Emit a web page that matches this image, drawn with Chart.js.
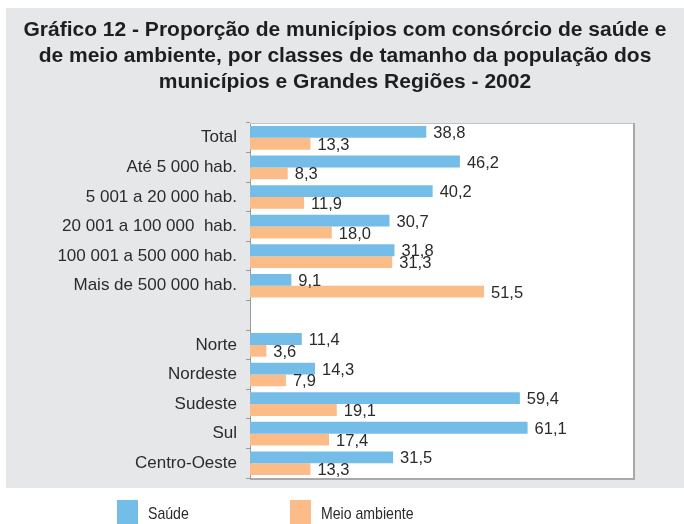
<!DOCTYPE html>
<html lang="pt-BR">
<head>
<meta charset="utf-8">
<title>Gráfico 12</title>
<script src="https://cdn.jsdelivr.net/npm/chart.js@4.4.0/dist/chart.umd.min.js"></script>
<style>
  html, body { margin: 0; padding: 0; background: #fff; }
  #wrap { position: relative; width: 684px; height: 524px; }
</style>
</head>
<body>
<div id="wrap"><canvas id="grafico" width="684" height="524"></canvas></div>
<script>
// Dados do gráfico
const titleLines = [
  'Gráfico 12 - Proporção de municípios com consórcio de saúde e',
  'de meio ambiente, por classes de tamanho da população dos',
  'municípios e Grandes Regiões - 2002'
];
const categories = [
  'Total',
  'Até 5 000 hab.',
  '5 001 a 20 000 hab.',
  '20 001 a 100 000  hab.',
  '100 001 a 500 000 hab.',
  'Mais de 500 000 hab.',
  '',
  'Norte',
  'Nordeste',
  'Sudeste',
  'Sul',
  'Centro-Oeste'
];
const saude = [38.8, 46.2, 40.2, 30.7, 31.8, 9.1, null, 11.4, 14.3, 59.4, 61.1, 31.5];
const meioAmbiente = [13.3, 8.3, 11.9, 18.0, 31.3, 51.5, null, 3.6, 7.9, 19.1, 17.4, 13.3];
const seriesNames = ['Saúde', 'Meio ambiente'];

const FONT = "'Liberation Sans', Arial, sans-serif";
const BLUE = '#74bde8';
const ORANGE = '#fbbc87';
const GREY_BG = '#e6e7e9';
const TEXT = '#2b2b2b';

const fmt = v => v.toFixed(1).replace('.', ',');

/**
 * Fundo cinza, área do gráfico branca, título e legenda
 */
const moldura = {
  id: 'moldura',
  beforeDraw(chart) {
    const { ctx, chartArea: a } = chart;
    ctx.save();
    ctx.fillStyle = '#fff';
    ctx.fillRect(0, 0, chart.width, chart.height);
    ctx.fillStyle = GREY_BG;
    ctx.fillRect(6, 8, chart.width - 6, 480);
    ctx.fillStyle = '#fff';
    ctx.fillRect(a.left, a.top, a.right - a.left, a.bottom - a.top);

    // título
    ctx.fillStyle = '#1e1e1e';
    ctx.font = 'bold 21px ' + FONT;
    ctx.textAlign = 'center';
    ctx.textBaseline = 'middle';
    titleLines.forEach((t, i) => ctx.fillText(t, 345, 30 + i * 26));

    // legenda (texto estreito, como no original)
    ctx.font = '17px ' + FONT;
    ctx.textAlign = 'left';
    const itens = [[BLUE, seriesNames[0], 117], [ORANGE, seriesNames[1], 290]];
    itens.forEach(([cor, nome, x]) => {
      ctx.fillStyle = cor;
      ctx.fillRect(x, 500, 21, 24);
      ctx.fillStyle = TEXT;
      ctx.save();
      ctx.translate(x + 31, 514);
      ctx.scale(0.83, 1);
      ctx.fillText(nome, 0, 0);
      ctx.restore();
    });
    ctx.restore();
  },
  afterDraw(chart) {
    const { ctx, chartArea: a } = chart;
    ctx.save();
    // borda da área do gráfico
    ctx.strokeStyle = '#c4c4c4';
    ctx.lineWidth = 1;
    ctx.beginPath();
    ctx.moveTo(a.left, a.top + 0.5);
    ctx.lineTo(a.right + 0.5, a.top + 0.5);
    ctx.stroke();
    ctx.strokeStyle = '#a9a9a9';
    ctx.lineWidth = 2;
    ctx.beginPath();
    ctx.moveTo(a.right + 1, a.top);
    ctx.lineTo(a.right + 1, a.bottom + 1);
    ctx.lineTo(a.left, a.bottom + 1);
    ctx.stroke();

    // rótulos de valores
    ctx.font = '16.5px ' + FONT;
    ctx.fillStyle = TEXT;
    ctx.textAlign = 'left';
    ctx.textBaseline = 'middle';
    chart.data.datasets.forEach((ds, di) => {
      chart.getDatasetMeta(di).data.forEach((bar, i) => {
        const v = ds.data[i];
        if (v == null) return;
        ctx.fillText(fmt(v), bar.x + 7, bar.y + 1.5);
      });
    });
    ctx.restore();
  }
};

new Chart(document.getElementById('grafico'), {
  type: 'bar',
  data: {
    labels: categories,
    datasets: [
      { label: seriesNames[0], data: saude, backgroundColor: BLUE, borderWidth: 0 },
      { label: seriesNames[1], data: meioAmbiente, backgroundColor: ORANGE, borderWidth: 0 }
    ]
  },
  options: {
    indexAxis: 'y',
    responsive: false,
    devicePixelRatio: 1,
    animation: false,
    datasets: { bar: { categoryPercentage: 0.8, barPercentage: 1 } },
    layout: { padding: { top: 123, right: 51, bottom: 46, left: 0 } },
    plugins: {
      legend: { display: false },
      tooltip: { enabled: false },
      title: { display: false }
    },
    scales: {
      x: {
        display: false,
        min: 0,
        max: 84.3
      },
      y: {
        afterFit: s => { s.width = 250; },
        grid: {
          offset: true,
          drawOnChartArea: false,
          tickLength: 4,
          color: '#9a9a9a'
        },
        border: { display: true, color: '#9a9a9a' },
        ticks: {
          padding: 9,
          color: TEXT,
          font: { family: FONT, size: 17 }
        }
      }
    }
  },
  plugins: [moldura]
});
</script>
</body>
</html>
